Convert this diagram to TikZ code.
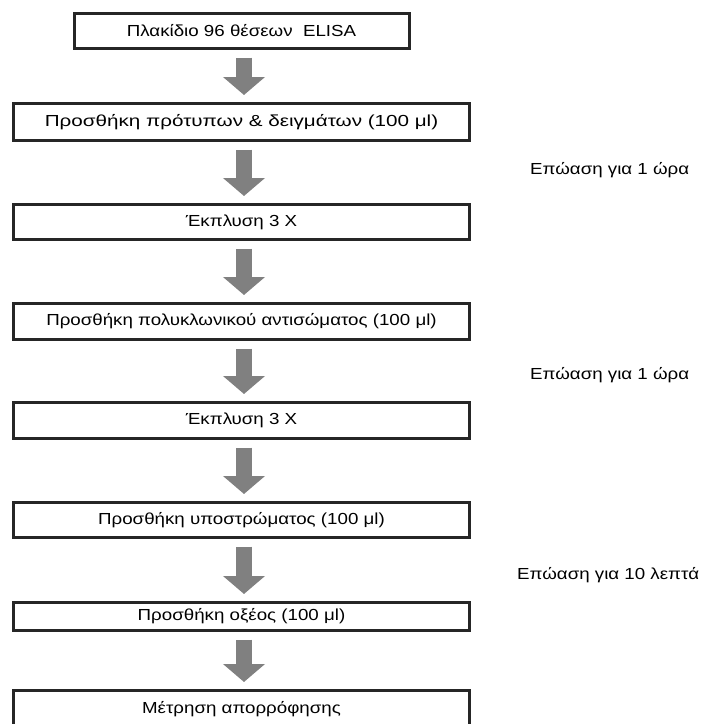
\documentclass[tikz,border=0pt]{standalone}
\usepackage{fontspec}
\setmainfont[FakeStretch=1.17]{Liberation Sans}
\newfontfamily\widefont[FakeStretch=1.29]{Liberation Sans}
\usetikzlibrary{arrows.meta}
\definecolor{boxline}{HTML}{262626}
\definecolor{arrowgray}{HTML}{808080}
\begin{document}
\begin{tikzpicture}[x=1pt,y=-1pt,
  stepbox/.style={draw=boxline,line width=3pt,fill=white,minimum width=456pt,
    inner sep=0pt,font=\fontsize{16}{19}\selectfont},
  flow/.style={draw=arrowgray,line width=16pt,
    -{Triangle[width=41pt,length=18pt]},shorten <=7.5pt,shorten >=7pt},
  note/.style={anchor=west,inner sep=0pt,font=\fontsize{16}{19}\selectfont}]
\useasboundingbox (0,0) rectangle (703,724);

\node[stepbox,minimum width=335pt,minimum height=35pt] (b1) at (241.5,31) {Πλακίδιο 96 θέσεων\ \ ELISA};
\node[stepbox,minimum height=37pt,font=\widefont\fontsize{16}{19}\selectfont] (b2) at (241.5,122) {Προσθήκη πρότυπων \& δειγμάτων (100 μl)};
\node[stepbox,minimum height=35pt] (b3) at (241.5,222) {Έκπλυση 3 Χ};
\node[stepbox,minimum height=36pt] (b4) at (241.5,321.5) {Προσθήκη πολυκλωνικού αντισώματος (100 μl)};
\node[stepbox,minimum height=36pt] (b5) at (241.5,420.5) {Έκπλυση 3 Χ};
\node[stepbox,minimum height=35pt] (b6) at (241.5,520) {Προσθήκη υποστρώματος (100 μl)};
\node[stepbox,minimum height=28pt] (b7) at (241.5,616.5) {Προσθήκη οξέος (100 μl)};
\node[stepbox,minimum height=37pt] (b8) at (241.5,709) {Μέτρηση απορρόφησης};

\draw[flow] ([xshift=2.5pt]b1.south) -- ([xshift=2.5pt]b2.north);
\draw[flow] ([xshift=2.5pt]b2.south) -- ([xshift=2.5pt]b3.north);
\draw[flow] ([xshift=2.5pt]b3.south) -- ([xshift=2.5pt]b4.north);
\draw[flow] ([xshift=2.5pt]b4.south) -- ([xshift=2.5pt]b5.north);
\draw[flow] ([xshift=2.5pt]b5.south) -- ([xshift=2.5pt]b6.north);
\draw[flow] ([xshift=2.5pt]b6.south) -- ([xshift=2.5pt]b7.north);
\draw[flow] ([xshift=2.5pt]b7.south) -- ([xshift=2.5pt]b8.north);

\node[note] (n1) at (530,170) {Επώαση για 1 ώρα};
\node[note] (n2) at (530,375) {Επώαση για 1 ώρα};
\node[note] (n3) at (517,575) {Επώαση για 10 λεπτά};
\end{tikzpicture}
\end{document}
